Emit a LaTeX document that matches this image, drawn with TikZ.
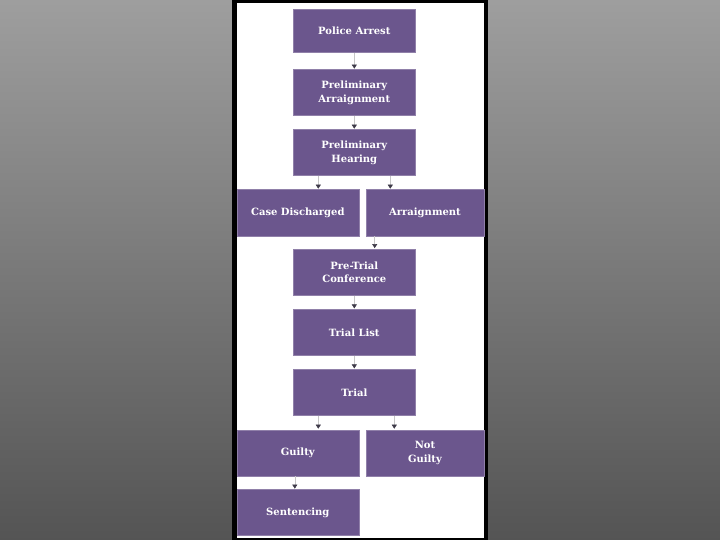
\documentclass[tikz,border=0pt]{standalone}
\usepackage{fontspec}
\newfontfamily\slabfont{DejaVu Serif}
\usetikzlibrary{arrows.meta}
\definecolor{boxpurple}{RGB}{107,86,141}
\definecolor{tipgray}{RGB}{62,58,72}

\begin{document}
\begin{tikzpicture}[x=1pt, y=-1pt,
  stage/.style={fill=boxpurple, draw=boxpurple!75!white, line width=0.6pt, text=white,
    font=\slabfont\bfseries\fontsize{10}{13.5}\selectfont, align=center,
    inner sep=0pt, minimum width=122pt, minimum height=46pt},
  flow/.style={draw=gray!45, line width=0.5pt,
    -{Triangle[length=4pt, width=5pt, color=tipgray]}, shorten >=0.8pt}]
\useasboundingbox (0,0) rectangle (720,540);
\shade[top color=black!38, bottom color=black!67] (0,0) rectangle (720,540);
\fill[black] (232,0) rectangle (488,540);
\fill[white] (236.5,3) rectangle (484,538);
% stages
\node[stage, minimum height=43pt] (arrest) at (354.3,31) {Police Arrest};
\node[stage] (prearr) at (354.3,92.7) {Preliminary\\Arraignment};
\node[stage] (hearing) at (354.3,152.8) {Preliminary\\Hearing};
\node[stage] (discharged) at (297.8,212.8) {Case Discharged};
\node[stage, minimum width=118pt] (arraign) at (425,212.8) {Arraignment};
\node[stage] (pretrial) at (354.3,272.2) {Pre-Trial\\Conference};
\node[stage] (triallist) at (354.3,332.5) {Trial List};
\node[stage] (trial) at (354.3,392.5) {Trial};
\node[stage] (guilty) at (297.8,452.8) {Guilty};
\node[stage, minimum width=118pt] (notguilty) at (425,452.8) {Not\\Guilty};
\node[stage] (sentencing) at (297.8,512.7) {Sentencing};
% connectors
\foreach \a/\b in {arrest/prearr, prearr/hearing, pretrial/triallist, triallist/trial}
  \draw[flow] (\a.south) -- (\b.north);
\draw[flow] ([xshift=-36pt]hearing.south) -- ([xshift=-36pt]hearing.south |- discharged.north);
\draw[flow] ([xshift=36pt]hearing.south) -- ([xshift=36pt]hearing.south |- arraign.north);
\draw[flow] ([xshift=9pt]arraign.south west) -- ([xshift=9pt]arraign.south west |- pretrial.north);
\draw[flow] ([xshift=-36pt]trial.south) -- ([xshift=-36pt]trial.south |- guilty.north);
\draw[flow] ([xshift=40pt]trial.south) -- ([xshift=40pt]trial.south |- notguilty.north);
\draw[flow] ([xshift=-3pt]guilty.south) -- ([xshift=-3pt]guilty.south |- sentencing.north);
\end{tikzpicture}
\end{document}
